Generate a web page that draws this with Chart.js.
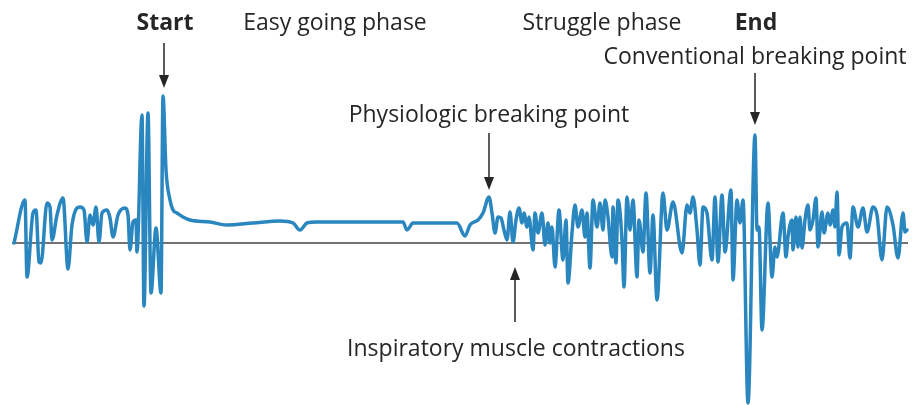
<!DOCTYPE html>
<html>
<head>
<meta charset="utf-8">
<script src="https://cdn.jsdelivr.net/npm/chart.js@4.4.0/dist/chart.umd.min.js"></script>
<style>
html,body{margin:0;padding:0;background:#fff;}
#wrap{width:913px;height:405px;position:relative;}
</style>
</head>
<body>
<div id="wrap"><canvas id="c"></canvas></div>
<script>
// Signal samples (time position, amplitude above the baseline)
const timeX = [
14,25,27,33,36,39,41,47,50,52,57,63,68,72,80,84,87,90,93,96,99,102,107,110,113,118,125,128,130,133,136,137,
142,144,148,151,156,161,163,166,170,173,177,183,190,210,227,253,280,293,300,307,317,403,407,413,457,465,470,478,483,
489,492,495,498,501,504,507,510,513,516,519,522,524,527,529,533,535,538,542,545,548,550,552,555,559,563,566,568,572,
575,578,582,585,587,590,593,597,600,603,605,608,612,613,616,618,622,624,627,
630,633,637,639,643,646,650,653,657,663,667,673,682,687,690,693,697,700,703,707,712,715,718,722,725,731,733,737,740,743,
748,755,757,759,762,768,772,775,777,783,786,788,792,793,796,798,800,802,805,808,810,813,816,818,822,824,828,830,833,835,
837,839,842,847,850,853,858,863,867,873,877,882,887,893,898,903,905,907
];
const amplitude = [
0,43,-34,30,33,-19,-20,40,36,3,28,45,-26,18,36,33,1,28,18,36,1,30,33,25,6,28,35,28,-7,21,23,-9,
128,-63,130,-50,15,-50,147,73,43,33,30,26,23,21,18,20,22,20,13,20,21,21,13,20,20,7,18,23,30,
46,30,10,26,25,13,3,31,1,23,35,20,30,16,26,-7,30,10,30,-2,20,0,16,-24,33,-17,23,-40,10,
38,16,33,6,30,-25,43,16,40,13,43,26,-14,36,-20,43,3,-44,46,
13,43,-34,23,-9,50,-30,28,-57,50,13,41,-10,38,30,46,13,-22,36,30,-17,46,-19,48,-9,53,-37,43,20,43,
-160,108,13,16,-87,40,-34,-4,-14,30,-14,6,23,-7,26,-4,26,-5,23,38,13,23,45,-4,31,10,30,18,33,16,
51,-12,16,20,-15,36,16,35,11,36,28,-17,36,18,-15,30,11,13
];
const baselineX = [12, 908];
const baselineY = [0, 0];
const labelTexts = ['Start','Easy going phase','Struggle phase','End','Conventional breaking point','Physiologic breaking point','Inspiratory muscle contractions'];

const signalData = timeX.map((x,i)=>({x:x, y:amplitude[i]}));
const baseData = baselineX.map((x,i)=>({x:x, y:baselineY[i]}));

// annotation layout (data coordinates)
const labelLayout = [
  {x:165, y:220, bold:true},
  {x:335, y:220},
  {x:602, y:220},
  {x:756, y:220, bold:true},
  {x:755, y:186},
  {x:489, y:128},
  {x:516, y:-106}
];
const arrowLayout = [
  {x:164, from:200, to:155},
  {x:489, from:110, to:53},
  {x:755, from:170, to:118},
  {x:515, from:-79, to:-24}
];

const annot = {
  id:'annot',
  afterDatasetsDraw(chart){
    const ctx = chart.ctx, xs = chart.scales.x, ys = chart.scales.y;
    ctx.save();
    ctx.fillStyle = '#262626';
    ctx.textAlign = 'center';
    ctx.textBaseline = 'middle';
    labelLayout.forEach((l,i)=>{
      ctx.font = (l.bold?'bold ':'') + '23px "Open Sans"';
      ctx.fillText(labelTexts[i], xs.getPixelForValue(l.x), ys.getPixelForValue(l.y));
    });
    ctx.strokeStyle = '#262626';
    ctx.lineWidth = 1.5;
    arrowLayout.forEach(a=>{
      const px = xs.getPixelForValue(a.x);
      const y0 = ys.getPixelForValue(a.from), y1 = ys.getPixelForValue(a.to);
      const dir = y1 > y0 ? 1 : -1;
      ctx.beginPath();
      ctx.moveTo(px, y0);
      ctx.lineTo(px, y1 - dir*10);
      ctx.stroke();
      ctx.beginPath();
      ctx.moveTo(px, y1);
      ctx.lineTo(px-5, y1 - dir*13);
      ctx.lineTo(px+5, y1 - dir*13);
      ctx.closePath();
      ctx.fill();
    });
    ctx.restore();
  }
};

new Chart(document.getElementById('c'), {
  type:'line',
  data:{
    datasets:[
      {data:signalData, borderColor:'#2a86bf', borderWidth:3.5, pointRadius:0, cubicInterpolationMode:'monotone', borderJoinStyle:'round', borderCapStyle:'round', fill:false},
      {data:baseData, borderColor:'#444', borderWidth:1.5, pointRadius:0, fill:false}
    ]
  },
  options:{
    responsive:true,
    maintainAspectRatio:false,
    animation:false,
    layout:{padding:0},
    plugins:{legend:{display:false}, tooltip:{enabled:false}},
    scales:{
      x:{type:'linear', display:false, min:0, max:913},
      y:{type:'linear', display:false, min:-162, max:243}
    }
  },
  plugins:[annot]
});
</script>
</body>
</html>
